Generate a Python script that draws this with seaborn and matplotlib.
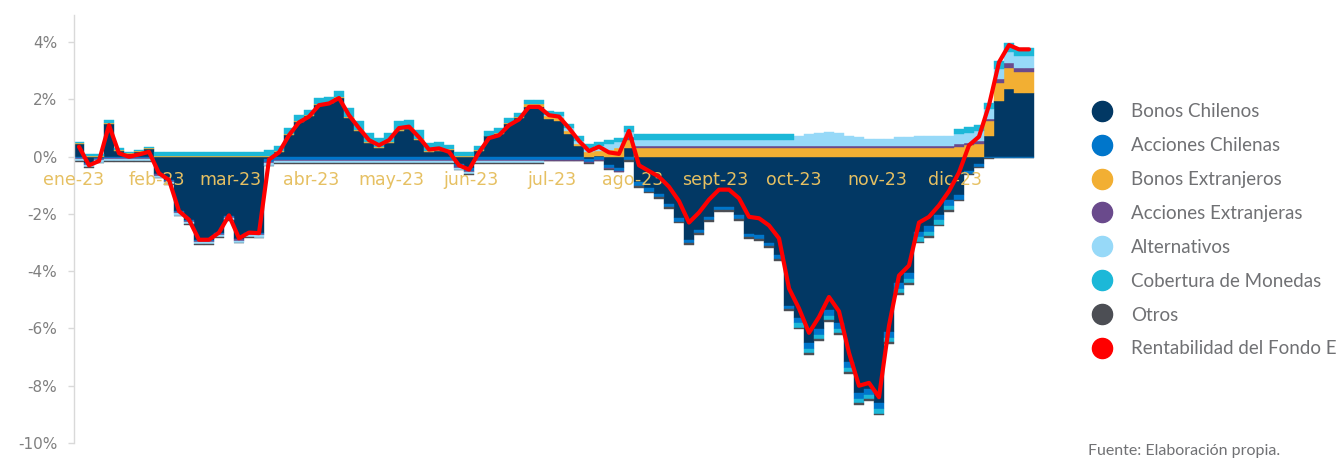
import numpy as np
import matplotlib
matplotlib.use("Agg")
import matplotlib.pyplot as plt
from matplotlib.lines import Line2D
import seaborn as sns

# aporte acumulado a la rentabilidad del Fondo E (%), un valor por tramo de ~2-3 dias habiles
rentabilidad = [
    0.35, -0.30, -0.15, 1.10, 0.12, 0.00, 0.08, 0.17, -0.58, -0.81, -1.90, -2.20,
    -2.90, -2.90, -2.65, -2.05, -2.85, -2.65, -2.67, -0.10, 0.15, 0.75, 1.20, 1.40,
    1.80, 1.86, 2.05, 1.45, 1.00, 0.58, 0.40, 0.58, 1.00, 1.05, 0.68, 0.25,
    0.29, 0.17, -0.30, -0.45, 0.15, 0.65, 0.75, 1.10, 1.30, 1.74, 1.74, 1.45,
    1.40, 1.00, 0.55, 0.20, 0.35, 0.15, 0.10, 0.90, -0.30, -0.50, -0.70, -1.05,
    -1.55, -2.30, -1.95, -1.50, -1.15, -1.15, -1.45, -2.10, -2.15, -2.40, -2.85, -4.60,
    -5.30, -6.15, -5.60, -4.90, -5.40, -6.85, -8.00, -7.90, -8.40, -5.90, -4.15, -3.80,
    -2.30, -2.10, -1.70, -1.20, -0.55, 0.40, 0.70, 1.80, 3.30, 3.90, 3.75, 3.75,
]
bonos_chilenos = [
    0.44, -0.21, -0.06, 1.14, 0.21, 0.09, 0.17, 0.26, -0.59, -0.82, -1.91, -2.21,
    -2.91, -2.91, -2.66, -2.06, -2.86, -2.66, -2.68, -0.09, 0.16, 0.76, 1.21, 1.41,
    1.81, 1.87, 2.06, 1.36, 0.91, 0.49, 0.31, 0.49, 0.91, 0.96, 0.59, 0.16,
    0.20, 0.23, -0.24, -0.39, 0.21, 0.71, 0.81, 1.16, 1.36, 1.73, 1.73, 1.31,
    1.26, 0.81, 0.36, -0.09, 0.01, -0.29, -0.39, 0.30, -0.90, -1.10, -1.30, -1.65,
    -2.15, -2.90, -2.55, -2.10, -1.75, -1.75, -2.05, -2.70, -2.75, -3.00, -3.45, -5.20,
    -5.62, -6.52, -6.02, -5.37, -5.82, -7.17, -8.27, -8.12, -8.62, -6.12, -4.42, -4.07,
    -2.62, -2.42, -2.02, -1.52, -1.35, -0.50, -0.27, 0.73, 1.94, 2.36, 2.21, 2.21,
]
acciones_chilenas = [
    -0.03, -0.03, -0.03, -0.03, -0.03, -0.03, -0.03, -0.03, -0.03, -0.03, -0.03, -0.03,
    -0.03, -0.03, -0.03, -0.03, -0.03, -0.03, -0.03, -0.10, -0.10, -0.10, -0.10, -0.10,
    -0.10, -0.10, -0.10, -0.10, -0.10, -0.10, -0.10, -0.10, -0.10, -0.10, -0.10, -0.10,
    -0.10, -0.10, -0.10, -0.10, -0.10, -0.10, -0.10, -0.10, -0.10, -0.10, -0.10, -0.10,
    -0.10, -0.10, -0.10, -0.10, -0.10, -0.10, -0.10, -0.12, -0.12, -0.12, -0.12, -0.12,
    -0.12, -0.12, -0.12, -0.12, -0.12, -0.12, -0.12, -0.12, -0.12, -0.12, -0.12, -0.12,
    -0.20, -0.20, -0.20, -0.20, -0.20, -0.20, -0.20, -0.20, -0.20, -0.20, -0.20, -0.20,
    -0.20, -0.20, -0.20, -0.20, -0.15, -0.10, -0.10, -0.05, -0.03, -0.03, -0.03, -0.03,
]
bonos_extranjeros = [
    0.03, 0.03, 0.03, 0.03, 0.03, 0.03, 0.03, 0.03, 0.03, 0.03, 0.03, 0.03,
    0.03, 0.03, 0.03, 0.03, 0.03, 0.03, 0.03, 0.03, 0.03, 0.03, 0.03, 0.03,
    0.03, 0.03, 0.03, 0.03, 0.03, 0.03, 0.03, 0.03, 0.03, 0.03, 0.03, 0.03,
    0.03, 0.03, 0.03, 0.03, 0.03, 0.03, 0.03, 0.03, 0.03, 0.10, 0.10, 0.10,
    0.10, 0.10, 0.10, 0.15, 0.20, 0.25, 0.30, 0.30, 0.30, 0.30, 0.30, 0.30,
    0.30, 0.30, 0.30, 0.30, 0.30, 0.30, 0.30, 0.30, 0.30, 0.30, 0.30, 0.30,
    0.30, 0.30, 0.30, 0.30, 0.30, 0.30, 0.30, 0.30, 0.30, 0.30, 0.30, 0.30,
    0.30, 0.30, 0.30, 0.30, 0.35, 0.40, 0.45, 0.50, 0.65, 0.75, 0.75, 0.75,
]
acciones_extranjeras = [
    -0.04, -0.04, -0.04, -0.04, -0.04, -0.04, -0.04, -0.04, -0.04, -0.04, -0.04, -0.04,
    -0.04, -0.04, -0.04, -0.04, -0.04, -0.04, -0.04, -0.04, -0.04, -0.04, -0.04, -0.04,
    -0.04, -0.04, -0.04, -0.04, -0.04, -0.04, -0.04, -0.04, -0.04, -0.04, -0.04, -0.04,
    -0.04, -0.04, -0.04, -0.04, -0.04, -0.04, -0.04, -0.04, -0.04, -0.04, -0.04, -0.04,
    -0.04, -0.04, -0.04, -0.04, -0.04, -0.04, -0.04, 0.08, 0.08, 0.08, 0.08, 0.08,
    0.08, 0.08, 0.08, 0.08, 0.08, 0.08, 0.08, 0.08, 0.08, 0.08, 0.08, 0.08,
    0.08, 0.08, 0.08, 0.08, 0.08, 0.08, 0.08, 0.08, 0.08, 0.08, 0.08, 0.08,
    0.08, 0.08, 0.08, 0.08, 0.08, 0.08, 0.10, 0.10, 0.12, 0.15, 0.15, 0.15,
]
alternativos = [
    -0.08, -0.08, -0.08, -0.08, -0.08, -0.08, -0.08, -0.08, -0.08, -0.08, -0.08, -0.08,
    -0.08, -0.08, -0.08, -0.08, -0.08, -0.08, -0.08, -0.08, -0.08, -0.08, -0.08, -0.08,
    -0.08, -0.08, -0.08, -0.08, -0.08, -0.08, -0.08, -0.08, -0.08, -0.08, -0.08, -0.08,
    -0.08, -0.08, -0.08, -0.08, -0.08, -0.08, -0.08, -0.08, -0.08, -0.08, -0.08, 0.05,
    0.05, 0.10, 0.10, 0.15, 0.15, 0.20, 0.20, 0.20, 0.20, 0.20, 0.20, 0.20,
    0.20, 0.20, 0.20, 0.20, 0.20, 0.20, 0.20, 0.20, 0.20, 0.20, 0.20, 0.20,
    0.35, 0.40, 0.45, 0.50, 0.45, 0.35, 0.30, 0.25, 0.25, 0.25, 0.30, 0.30,
    0.35, 0.35, 0.35, 0.35, 0.35, 0.35, 0.35, 0.35, 0.35, 0.40, 0.40, 0.40,
]
cobertura_monedas = [
    0.05, 0.05, 0.05, 0.10, 0.05, 0.05, 0.05, 0.05, 0.15, 0.15, 0.15, 0.15,
    0.15, 0.15, 0.15, 0.15, 0.15, 0.15, 0.15, 0.20, 0.20, 0.20, 0.20, 0.20,
    0.20, 0.20, 0.20, 0.30, 0.30, 0.30, 0.30, 0.30, 0.30, 0.30, 0.30, 0.30,
    0.30, 0.15, 0.15, 0.15, 0.15, 0.15, 0.15, 0.15, 0.15, 0.15, 0.15, 0.15,
    0.15, 0.15, 0.15, 0.15, 0.15, 0.15, 0.15, 0.20, 0.20, 0.20, 0.20, 0.20,
    0.20, 0.20, 0.20, 0.20, 0.20, 0.20, 0.20, 0.20, 0.20, 0.20, 0.20, 0.20,
    -0.15, -0.15, -0.15, -0.15, -0.15, -0.15, -0.15, -0.15, -0.15, -0.15, -0.15, -0.15,
    -0.15, -0.15, -0.15, -0.15, 0.20, 0.20, 0.20, 0.20, 0.30, 0.30, 0.30, 0.30,
]
otros = [
    -0.02, -0.02, -0.02, -0.02, -0.02, -0.02, -0.02, -0.02, -0.02, -0.02, -0.02, -0.02,
    -0.02, -0.02, -0.02, -0.02, -0.02, -0.02, -0.02, -0.02, -0.02, -0.02, -0.02, -0.02,
    -0.02, -0.02, -0.02, -0.02, -0.02, -0.02, -0.02, -0.02, -0.02, -0.02, -0.02, -0.02,
    -0.02, -0.02, -0.02, -0.02, -0.02, -0.02, -0.02, -0.02, -0.02, -0.02, -0.02, -0.02,
    -0.02, -0.02, -0.02, -0.02, -0.02, -0.02, -0.02, -0.06, -0.06, -0.06, -0.06, -0.06,
    -0.06, -0.06, -0.06, -0.06, -0.06, -0.06, -0.06, -0.06, -0.06, -0.06, -0.06, -0.06,
    -0.06, -0.06, -0.06, -0.06, -0.06, -0.06, -0.06, -0.06, -0.06, -0.06, -0.06, -0.06,
    -0.06, -0.06, -0.06, -0.06, -0.03, -0.03, -0.03, -0.03, -0.03, -0.03, -0.03, -0.03,
]

meses = ["ene-23", "feb-23", "mar-23", "abr-23", "may-23", "jun-23",
         "jul-23", "ago-23", "sept-23", "oct-23", "nov-23", "dic-23"]
# posicion de cada etiqueta de mes sobre el eje de tramos
mes_pos = [-0.5, 7.8, 15.1, 23.2, 31.2, 39.2, 47.3, 55.4, 63.6, 71.5, 79.8, 87.6]

y_ticks = [-10, -8, -6, -4, -2, 0, 2, 4]

componentes = [
    ("Bonos Chilenos", bonos_chilenos, "#023864"),
    ("Acciones Chilenas", acciones_chilenas, "#0076CB"),
    ("Bonos Extranjeros", bonos_extranjeros, "#F2AF33"),
    ("Acciones Extranjeras", acciones_extranjeras, "#6A4A8C"),
    ("Alternativos", alternativos, "#97D9F8"),
    ("Cobertura de Monedas", cobertura_monedas, "#1CB8D8"),
    ("Otros", otros, "#4C4E54"),
]
color_rent = "#FF0000"

sns.set_theme(style="white")
plt.rcParams["font.family"] = ["DejaVu Sans"]

fig = plt.figure(figsize=(13.4, 4.58), dpi=100)
ax = fig.add_axes([74 / 1340, 1 - 443 / 458, 966 / 1340, 428 / 458])

x = np.arange(len(rentabilidad))
base_pos = np.zeros(len(x))
base_neg = np.zeros(len(x))
for nombre, valores, color in componentes:
    v = np.asarray(valores, dtype=float)
    for signo in (1, -1):
        m = v * signo > 0
        base = base_pos if signo == 1 else base_neg
        ax.bar(x[m], v[m], bottom=base[m], width=1.0, color=color,
               edgecolor=color, linewidth=0.3, zorder=2)
        base[m] += v[m]

for etiqueta, pos in zip(meses, mes_pos):
    ax.text(pos, -0.82, etiqueta, ha="center", va="center", fontsize=12.5,
            color="#E6C062", zorder=4)

sns.lineplot(x=x, y=rentabilidad, color=color_rent, linewidth=3.0, ax=ax, zorder=5)

ax.set_xlim(-0.5, 96.1)
ax.set_ylim(-10, 4.95)
ax.set_yticks(y_ticks)
ax.set_yticklabels([f"{t}%" for t in y_ticks])
ax.set_xticks([])
ax.set_xlabel("")
ax.set_ylabel("")
for s in ("top", "right", "bottom"):
    ax.spines[s].set_visible(False)
ax.spines["left"].set_color("#D9D9D9")
ax.spines["left"].set_linewidth(1.0)
ax.tick_params(axis="y", left=True, length=4, width=1, color="#D9D9D9",
               labelcolor="#7F7F7F", labelsize=11, pad=8)

handles = [Line2D([], [], marker="o", linestyle="", markersize=14.5,
                  markerfacecolor=c, markeredgecolor=c) for _, _, c in componentes]
handles.append(Line2D([], [], marker="o", linestyle="", markersize=14.5,
                      markerfacecolor=color_rent, markeredgecolor=color_rent))
etiquetas = [n for n, _, _ in componentes] + ["Rentabilidad del Fondo E"]
fig.legend(handles, etiquetas, loc="upper left",
           bbox_to_anchor=(1081 / 1340, 1 - 94 / 458), frameon=False,
           prop={"family": "Lato", "size": 13.5}, labelcolor="#707174",
           labelspacing=0.9, handletextpad=0.95, handlelength=1.2, borderpad=0)

fig.text(1088 / 1340, 1 - 451 / 458, "Fuente: Elaboración propia.", fontsize=11.5,
         color="#707174", family="Lato", va="center", ha="left")

fig.savefig("out.png", dpi=100)
